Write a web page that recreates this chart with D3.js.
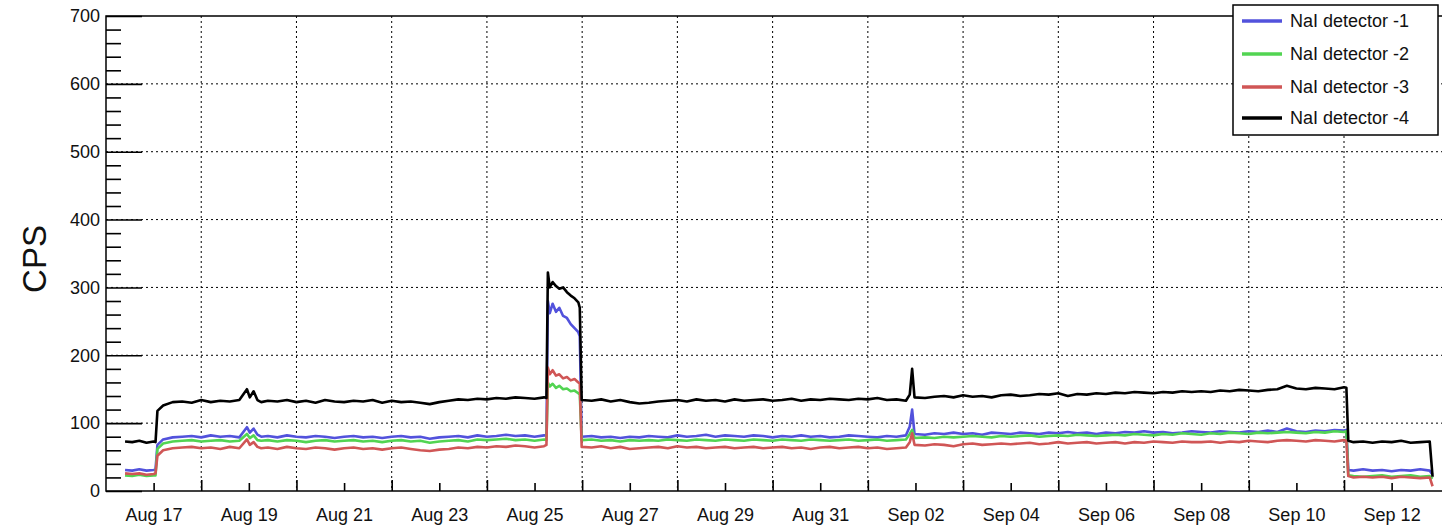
<!DOCTYPE html>
<html>
<head>
<meta charset="utf-8">
<script src="https://cdn.jsdelivr.net/npm/d3@7"></script>
<style>
  body { margin: 0; background: #fff; }
  text { font-family: "Liberation Sans", Arial, Helvetica, sans-serif; }
</style>
</head>
<body>
<script>
// days counted from Aug 16 00:00
const days = [
  0.40, 0.55, 0.70, 0.85, 1.00, 1.04, 1.08, 1.20, 1.40, 1.60,
  1.80, 2.00, 2.20, 2.40, 2.60, 2.80, 2.96, 3.02, 3.10, 3.18,
  3.26, 3.40, 3.60, 3.80, 4.00, 4.20, 4.40, 4.60, 4.80, 5.00,
  5.20, 5.40, 5.60, 5.80, 6.00, 6.20, 6.40, 6.60, 6.80, 7.00,
  7.20, 7.40, 7.60, 7.80, 8.00, 8.20, 8.40, 8.60, 8.80, 9.00,
  9.20, 9.25, 9.28, 9.32, 9.38, 9.45, 9.52, 9.60, 9.68, 9.76,
  9.84, 9.92, 9.95, 9.99, 10.2, 10.4, 10.6, 10.8, 11.0, 11.2,
  11.4, 11.6, 11.8, 12.0, 12.2, 12.4, 12.6, 12.8, 13.0, 13.2,
  13.4, 13.6, 13.8, 14.0, 14.2, 14.4, 14.6, 14.8, 15.0, 15.2,
  15.4, 15.6, 15.8, 16.0, 16.2, 16.4, 16.6, 16.8, 16.88, 16.93,
  16.98, 17.2, 17.4, 17.6, 17.8, 18.0, 18.2, 18.4, 18.6, 18.8,
  19.0, 19.2, 19.4, 19.6, 19.8, 20.0, 20.2, 20.4, 20.6, 20.8,
  21.0, 21.2, 21.4, 21.6, 21.8, 22.0, 22.2, 22.4, 22.6, 22.8,
  23.0, 23.2, 23.4, 23.6, 23.8, 24.0, 24.2, 24.4, 24.6, 24.8,
  25.0, 25.2, 25.4, 25.6, 25.8, 26.0, 26.05, 26.09, 26.2, 26.4,
  26.6, 26.8, 27.0, 27.2, 27.4, 27.6, 27.8, 27.86
];

const det1 = [
  31, 30, 32, 30, 31, 32, 68, 76, 79, 80,
  81, 79, 82, 80, 81, 79, 94, 86, 92, 83,
  80, 81, 79, 82, 80, 79, 81, 80, 78, 80,
  81, 79, 80, 78, 80, 81, 79, 80, 77, 79,
  80, 81, 79, 82, 80, 81, 83, 81, 82, 80,
  82, 81, 280, 262, 276, 264, 270, 258, 255, 246,
  240, 234, 228, 80, 81, 79, 80, 78, 80, 79,
  81, 80, 79, 82, 80, 81, 83, 80, 82, 81,
  80, 82, 81, 79, 81, 80, 82, 80, 81, 79,
  80, 82, 81, 80, 79, 81, 80, 82, 95, 120,
  84, 83, 85, 84, 86, 84, 85, 83, 86, 85,
  84, 86, 85, 84, 86, 85, 87, 85, 86, 84,
  86, 85, 87, 86, 88, 86, 87, 85, 86, 88,
  87, 86, 88, 87, 86, 88, 87, 89, 87, 92,
  88, 87, 89, 88, 90, 89, 90, 31, 30, 32,
  30, 31, 29, 31, 30, 32, 30, 24
];

const det2 = [
  23, 22, 24, 22, 23, 23, 62, 70, 73, 74,
  75, 73, 74, 75, 73, 74, 84, 78, 82, 75,
  74, 75, 73, 75, 74, 72, 74, 75, 73, 74,
  75, 73, 74, 72, 74, 75, 73, 74, 71, 73,
  74, 75, 73, 76, 75, 76, 77, 75, 76, 74,
  76, 75, 160, 154, 158, 152, 155, 150, 151, 147,
  148, 144, 142, 75, 76, 74, 75, 73, 75, 74,
  75, 74, 76, 75, 74, 76, 75, 74, 76, 75,
  74, 76, 75, 74, 76, 75, 74, 76, 75, 74,
  75, 76, 74, 75, 76, 74, 75, 76, 84, 90,
  78, 79, 78, 80, 79, 80, 81, 80, 79, 81,
  80, 81, 82, 80, 81, 82, 81, 83, 82, 81,
  82, 83, 82, 84, 83, 82, 84, 83, 85, 84,
  83, 85, 84, 86, 85, 84, 86, 85, 86, 87,
  86, 85, 87, 86, 88, 87, 88, 23, 22, 21,
  22, 23, 21, 22, 23, 21, 22, 18
];

const det3 = [
  26, 25, 26, 24, 25, 26, 52, 60, 63, 64,
  65, 63, 64, 62, 65, 63, 76, 68, 72, 65,
  63, 64, 62, 65, 63, 62, 64, 63, 61, 63,
  64, 62, 63, 61, 63, 64, 62, 60, 59, 61,
  62, 64, 63, 65, 64, 66, 65, 67, 66, 64,
  66, 68, 182, 172, 178, 170, 172, 166, 168, 163,
  165, 160, 158, 65, 64, 66, 63, 65, 62, 63,
  64, 65, 63, 66, 64, 65, 63, 64, 65, 63,
  64, 65, 63, 64, 65, 63, 64, 62, 64, 65,
  63, 64, 65, 63, 64, 62, 63, 64, 72, 85,
  68, 67, 69, 68, 66, 69, 70, 68, 69, 70,
  69, 70, 71, 69, 70, 72, 70, 71, 72, 70,
  71, 72, 70, 72, 71, 73, 72, 71, 73, 72,
  72, 73, 71, 73, 72, 74, 73, 72, 74, 75,
  74, 73, 75, 74, 73, 75, 74, 22, 20, 21,
  20, 21, 19, 21, 20, 19, 20, 7
];

const det4 = [
  73, 72, 74, 71, 73, 72, 118, 126, 131, 132,
  130, 134, 131, 133, 132, 134, 150, 138, 147, 134,
  131, 133, 132, 134, 131, 133, 130, 134, 132, 131,
  133, 132, 134, 130, 133, 131, 132, 130, 128, 131,
  133, 135, 134, 136, 135, 137, 136, 138, 137, 136,
  138, 137, 322, 300, 308, 302, 298, 300, 293, 288,
  284, 278, 270, 134, 133, 135, 132, 134, 131, 129,
  130, 132, 133, 134, 132, 135, 133, 134, 132, 135,
  133, 134, 135, 133, 134, 136, 133, 135, 134, 136,
  135, 134, 136, 135, 137, 134, 135, 133, 142, 180,
  138, 137, 139, 140, 138, 141, 139, 140, 138, 141,
  142, 140, 141, 143, 142, 144, 140, 143, 142, 144,
  143, 145, 144, 146, 145, 144, 146, 145, 147, 146,
  147, 146, 148, 147, 149, 148, 147, 149, 150, 155,
  151, 150, 152, 151, 150, 153, 152, 74, 72, 73,
  71, 73, 72, 74, 71, 72, 73, 21
];

const seriesNames = ['NaI detector -1', 'NaI detector -2', 'NaI detector -3', 'NaI detector -4'];
const seriesColors = ['#5252dc', '#52d452', '#d05656', '#000000'];
const yTicks = [0, 100, 200, 300, 400, 500, 600, 700];

const width = 1442, height = 530;
const svg = d3.select('body').append('svg')
  .attr('width', width)
  .attr('height', height);

const x = d3.scaleLinear().domain([0, 28.1]).range([106, 1444]);
const y = d3.scaleLinear().domain([0, 700]).range([491, 16]);

const labelDays = d3.range(1, 28, 2);   // Aug 17, Aug 19, ...
const gridDays = d3.range(2, 27, 2);    // Aug 18, Aug 20, ...
const minorY = d3.range(0, 701, 20).filter(v => v % 100 !== 0);
const dateOf = d => new Date(Date.UTC(2020, 7, 16 + d));
const fmt = d3.utcFormat('%b %d');

// grid
svg.append('g').selectAll('line')
  .data(yTicks.filter(v => v > 0 && v < 700))
  .join('line')
  .attr('x1', 106).attr('x2', 1444)
  .attr('y1', d => y(d)).attr('y2', d => y(d))
  .attr('stroke', '#000').attr('stroke-width', 1)
  .attr('stroke-dasharray', '2,3');

svg.append('g').selectAll('line')
  .data(gridDays)
  .join('line')
  .attr('x1', d => x(d)).attr('x2', d => x(d))
  .attr('y1', 16).attr('y2', 491)
  .attr('stroke', '#000').attr('stroke-width', 1)
  .attr('stroke-dasharray', '2,3');

// series
const line = d3.line()
  .x(d => x(d[0]))
  .y(d => y(d[1]));

[det1, det2, det3, det4].forEach(function (vals, i) {
  svg.append('path')
    .datum(days.map((d, j) => [d, vals[j]]))
    .attr('d', line)
    .attr('fill', 'none')
    .attr('stroke', seriesColors[i])
    .attr('stroke-width', 2.6)
    .attr('stroke-linejoin', 'round');
});

// axes
svg.append('g')
  .attr('transform', 'translate(106,0)')
  .call(d3.axisLeft(y).tickValues(yTicks).tickSize(-36).tickPadding(6));
svg.append('g')
  .attr('transform', 'translate(106,0)')
  .call(d3.axisLeft(y).tickValues(minorY).tickSize(-15).tickFormat(''));

svg.append('g')
  .attr('transform', 'translate(0,491)')
  .call(d3.axisBottom(x).tickValues(labelDays).tickSize(-8).tickPadding(17)
    .tickFormat(d => fmt(dateOf(d))));
svg.append('g')
  .attr('transform', 'translate(0,491)')
  .call(d3.axisBottom(x).tickValues(gridDays).tickSize(-11).tickFormat(''));

svg.selectAll('.domain').remove();
svg.selectAll('.tick line').attr('stroke', '#000').attr('stroke-width', 1.6);
svg.selectAll('.tick text')
  .style('font-size', '18px')
  .attr('fill', '#111');

// frame
svg.append('rect')
  .attr('x', 106).attr('y', 16)
  .attr('width', 1444 - 106).attr('height', 491 - 16)
  .attr('fill', 'none')
  .attr('stroke', '#000').attr('stroke-width', 1.5);

// y label
svg.append('text')
  .attr('transform', 'translate(46,259) rotate(-90)')
  .attr('text-anchor', 'middle')
  .style('font-size', '33px')
  .attr('fill', '#111')
  .text('CPS');

// legend
const legend = svg.append('g');
legend.append('rect')
  .attr('x', 1233).attr('y', 5)
  .attr('width', 205).attr('height', 130)
  .attr('fill', '#fff')
  .attr('stroke', '#000').attr('stroke-width', 1.5);

const rowY = [21, 54, 87, 118];
seriesNames.forEach(function (name, i) {
  legend.append('line')
    .attr('x1', 1242).attr('x2', 1282)
    .attr('y1', rowY[i]).attr('y2', rowY[i])
    .attr('stroke', seriesColors[i])
    .attr('stroke-width', 3.5);
  legend.append('text')
    .attr('x', 1290).attr('y', rowY[i])
    .attr('dy', '0.35em')
    .style('font-size', '18px')
    .attr('fill', '#111')
    .text(name);
});
</script>
</body>
</html>
